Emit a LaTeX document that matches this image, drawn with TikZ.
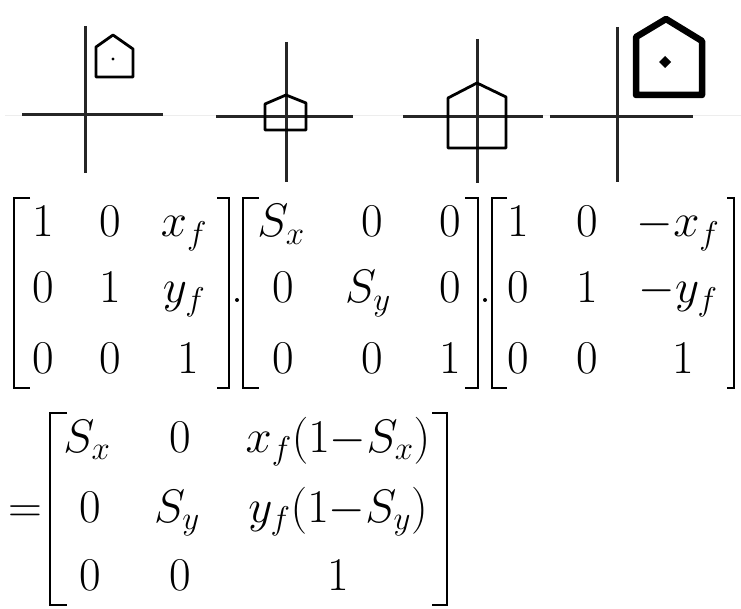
\RequirePackage{fix-cm}
\documentclass[tikz,border=0pt]{standalone}
\usepackage{tikz}

\begin{document}
\begin{tikzpicture}[x=1pt,y=-1pt,
  axis/.style={line width=3pt,black!85},
  house/.style={line width=2.8pt,line join=round},
  bighouse/.style={line width=6.5pt,line join=round},
  brk/.style={line width=1.4pt},
  entry/.style={anchor=base,inner sep=0pt,font=\fontsize{47}{56}\selectfont},
  prod/.style={circle,fill=black,inner sep=0pt,minimum size=4pt}]
\useasboundingbox (0,0) rectangle (741,609);
% faint scan line behind the axes
\draw[black!7,line width=1pt] (5,116) -- (741,116);
% four stages: origin, translate, scale, translate back
\draw[axis] (22,115) -- (163,115); \draw[axis] (85,26) -- (85,173);
\draw[axis] (216,117) -- (353,117); \draw[axis] (286,42) -- (286,182);
\draw[axis] (403,117) -- (543,117); \draw[axis] (477,39) -- (477,183);
\draw[axis] (550,117) -- (693,117); \draw[axis] (617,27) -- (617,182);
\draw[house] (96,77) -- (96,47) -- (113,35) -- (133,49) -- (133,77) -- cycle;
\fill (113,59) circle (1.6);
\draw[house] (265,130) -- (265,104) -- (286,95) -- (306,103) -- (306,130) -- cycle;
\draw[house] (448,148) -- (448,98) -- (477,83) -- (506,97) -- (506,148) -- cycle;
\draw[bighouse] (636,95) -- (636,37) -- (666,19) -- (702,41) -- (702,95) -- cycle;
\fill (665,56) -- (671,62) -- (665,68) -- (659,62) -- cycle;
% T(xf,yf)
\draw[brk] (30,198) -- (14,198) -- (14,388) -- (30,388);
\draw[brk] (217,198) -- (229,198) -- (229,388) -- (217,388);
\node[entry] (a11) at (43,237) {$1$};
\node[entry] (a12) at (110,237) {$0$};
\node[entry] (a13) at (184,237) {$x_f$};
\node[entry] (a21) at (43,303) {$0$};
\node[entry] (a22) at (110,303) {$1$};
\node[entry] (a23) at (184,303) {$y_f$};
\node[entry] (a31) at (43,373) {$0$};
\node[entry] (a32) at (110,373) {$0$};
\node[entry] (a33) at (188,373) {$1$};
\node[prod] (d1) at (237,300) {};
% S(Sx,Sy)
\draw[brk] (259,198) -- (243,198) -- (243,388) -- (259,388);
\draw[brk] (465,198) -- (478,198) -- (478,388) -- (465,388);
\node[entry] (b11) at (281,237) {$S_x$};
\node[entry] (b12) at (372,237) {$0$};
\node[entry] (b13) at (450,237) {$0$};
\node[entry] (b21) at (283,303) {$0$};
\node[entry] (b22) at (368,303) {$S_y$};
\node[entry] (b23) at (450,303) {$0$};
\node[entry] (b31) at (283,373) {$0$};
\node[entry] (b32) at (372,373) {$0$};
\node[entry] (b33) at (450,373) {$1$};
\node[prod] (d2) at (485,300) {};
% T(-xf,-yf)
\draw[brk] (507,198) -- (492,198) -- (492,388) -- (507,388);
\draw[brk] (727,198) -- (734,198) -- (734,388) -- (727,388);
\node[entry] (c11) at (518,237) {$1$};
\node[entry] (c12) at (587,237) {$0$};
\node[entry] (c13) at (678,237) {$-x_f$};
\node[entry] (c21) at (518,303) {$0$};
\node[entry] (c22) at (587,303) {$1$};
\node[entry] (c23) at (678,303) {$-y_f$};
\node[entry] (c31) at (518,373) {$0$};
\node[entry] (c32) at (587,373) {$0$};
\node[entry] (c33) at (683,373) {$1$};
% product
\node[entry] (eq) at (25,522) {$=$};
\draw[brk] (67,413) -- (50,413) -- (50,605) -- (67,605);
\draw[brk] (432,413) -- (447,413) -- (447,605) -- (432,605);
\node[entry] (r11) at (87,452) {$S_x$};
\node[entry] (r12) at (180,452) {$0$};
\node[entry] (r13) at (338,452) {$x_f(1{-}S_x)$};
\node[entry] (r21) at (90,522) {$0$};
\node[entry] (r22) at (177,522) {$S_y$};
\node[entry] (r23) at (338,522) {$y_f(1{-}S_y)$};
\node[entry] (r31) at (90,590) {$0$};
\node[entry] (r32) at (180,590) {$0$};
\node[entry] (r33) at (338,590) {$1$};
\end{tikzpicture}
\end{document}
